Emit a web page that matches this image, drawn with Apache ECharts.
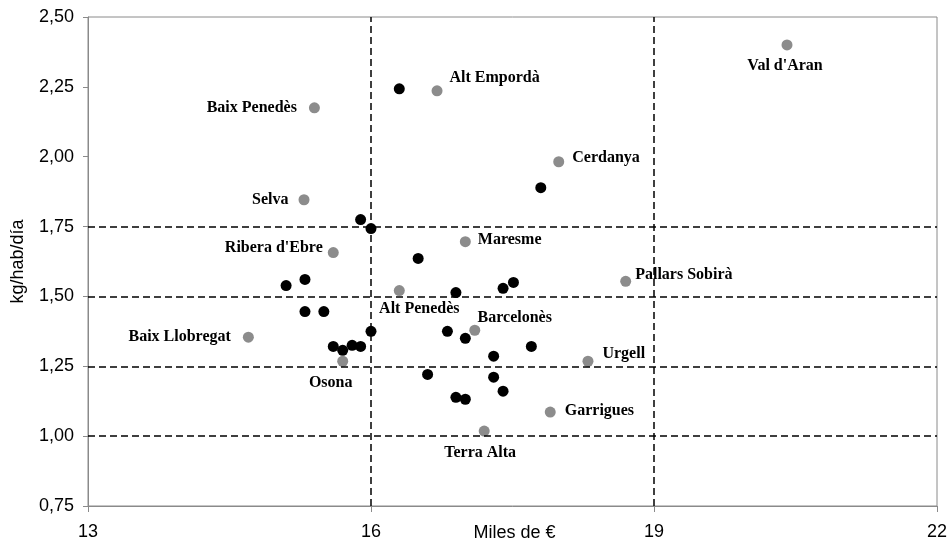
<!DOCTYPE html>
<html>
<head>
<meta charset="utf-8">
<script src="https://cdn.jsdelivr.net/npm/echarts@6/dist/echarts.min.js"></script>
<style>
  html, body { margin: 0; padding: 0; background: #fff; }
  #chart { width: 951px; height: 541px; }
</style>
</head>
<body>
<div id="chart"></div>
<script>
// comarques destacades (punts grisos, amb etiqueta)
var namedNames = ["Val d'Aran", 'Alt Empordà', 'Baix Penedès', 'Cerdanya', 'Selva', "Ribera d'Ebre",
    'Maresme', 'Pallars Sobirà', 'Alt Penedès', 'Baix Llobregat', 'Barcelonès', 'Osona',
    'Urgell', 'Garrigues', 'Terra Alta'];
var namedX = [20.41, 16.70, 15.40, 17.99, 15.29, 15.60, 17.00, 18.70, 16.30, 14.70, 17.10, 15.70, 18.30, 17.90, 17.20];
var namedY = [2.40, 2.236, 2.175, 1.982, 1.846, 1.657, 1.696, 1.554, 1.521, 1.354, 1.379, 1.268, 1.268, 1.086, 1.018];

// resta de comarques (punts negres)
var otherX = [16.30, 17.80, 15.89, 16.00, 16.50, 15.10, 15.30, 16.90, 17.40, 17.51, 15.30, 15.50, 16.00,
    16.81, 17.00, 15.60, 15.70, 15.80, 15.89, 17.70, 17.30, 16.60, 17.30, 17.40, 16.90, 17.00];
var otherY = [2.243, 1.889, 1.775, 1.743, 1.636, 1.539, 1.561, 1.514, 1.529, 1.550, 1.446, 1.446, 1.375,
    1.375, 1.350, 1.321, 1.307, 1.325, 1.321, 1.321, 1.286, 1.221, 1.211, 1.161, 1.139, 1.132];

var xTicks = [13, 16, 19, 22];
var yTicks = [0.75, 1.00, 1.25, 1.50, 1.75, 2.00, 2.25, 2.50];
var dashX = [16, 19];
var dashY = [1.00, 1.25, 1.50, 1.75];

// on va cada etiqueta
var labelPlace = {
    "Val d'Aran":     { position: 'inside', offset: [-2, 21] },
    'Alt Empordà':    { position: 'right', distance: 7, offset: [0, -13] },
    'Baix Penedès':   { position: 'left', distance: 12, offset: [0, 0] },
    'Cerdanya':       { position: 'right', distance: 8, offset: [0, -4] },
    'Selva':          { position: 'left', distance: 10, offset: [0, 0] },
    "Ribera d'Ebre":  { position: 'left', distance: 5, offset: [0, -5] },
    'Maresme':        { position: 'right', distance: 7, offset: [0, -2] },
    'Pallars Sobirà': { position: 'right', distance: 4, offset: [0, -6] },
    'Alt Penedès':    { position: 'inside', offset: [20, 18] },
    'Baix Llobregat': { position: 'left', distance: 12, offset: [0, 0] },
    'Barcelonès':     { position: 'inside', offset: [40, -12] },
    'Osona':          { position: 'inside', offset: [-12, 22] },
    'Urgell':         { position: 'right', distance: 9, offset: [0, -7] },
    'Garrigues':      { position: 'right', distance: 9, offset: [0, -1] },
    'Terra Alta':     { position: 'inside', offset: [-4, 22] }
};

var myChart = echarts.init(document.getElementById('chart'));

var namedData = namedNames.map(function (n, i) {
    var p = labelPlace[n];
    return {
        name: n,
        value: [namedX[i], namedY[i]],
        label: { position: p.position, distance: p.distance || 0, offset: p.offset }
    };
});
var otherData = otherX.map(function (x, i) { return [x, otherY[i]]; });

var axisGray = '#8a8a8a';

var option = {
    animation: false,
    backgroundColor: '#fff',
    grid: {
        left: 88, right: 14, top: 17, bottom: 35,
        outerBoundsMode: 'none',
        containLabel: false,
        show: true, borderColor: axisGray, borderWidth: 1
    },
    xAxis: {
        type: 'value',
        min: xTicks[0], max: xTicks[xTicks.length - 1], interval: 3,
        name: 'Miles de €',
        nameLocation: 'middle',
        nameGap: 18,
        nameMoveOverlap: false,
        nameTextStyle: { fontFamily: 'Liberation Sans', fontSize: 18, color: '#000', padding: [0, 0, 0, 4] },
        axisLine: { show: true, lineStyle: { color: axisGray } },
        axisTick: { show: true, length: 6, lineStyle: { color: axisGray } },
        axisLabel: { fontFamily: 'Liberation Sans', fontSize: 18, color: '#000', margin: 17 },
        splitLine: { show: false }
    },
    yAxis: {
        type: 'value',
        min: yTicks[0], max: yTicks[yTicks.length - 1], interval: 0.25,
        name: 'kg/hab/día',
        nameLocation: 'middle',
        nameGap: 61,
        nameMoveOverlap: false,
        nameTextStyle: { fontFamily: 'Liberation Sans', fontSize: 18, color: '#000' },
        axisLine: { show: true, lineStyle: { color: axisGray } },
        axisTick: { show: true, length: 5, lineStyle: { color: axisGray } },
        axisLabel: {
            fontFamily: 'Liberation Sans', fontSize: 18, color: '#000', margin: 14,
            formatter: function (v) { return v.toFixed(2).replace('.', ','); }
        },
        splitLine: { show: false }
    },
    series: [
        {
            name: 'resta',
            type: 'scatter',
            symbolSize: 11,
            itemStyle: { color: '#000', opacity: 1 },
            data: otherData,
            markLine: {
                silent: true,
                symbol: 'none',
                label: { show: false },
                lineStyle: { color: '#000', type: [7, 4], width: 1.5 },
                data: dashX.map(function (v) { return { xAxis: v }; })
                    .concat(dashY.map(function (v) { return { yAxis: v }; }))
            },
            z: 3
        },
        {
            name: 'destacades',
            type: 'scatter',
            symbolSize: 11,
            itemStyle: { color: '#8c8c8c', opacity: 1 },
            label: {
                show: true,
                formatter: '{b}',
                fontFamily: 'Liberation Serif',
                fontWeight: 'bold',
                fontSize: 16,
                color: '#000'
            },
            data: namedData,
            z: 4
        }
    ]
};

myChart.setOption(option);
</script>
</body>
</html>
